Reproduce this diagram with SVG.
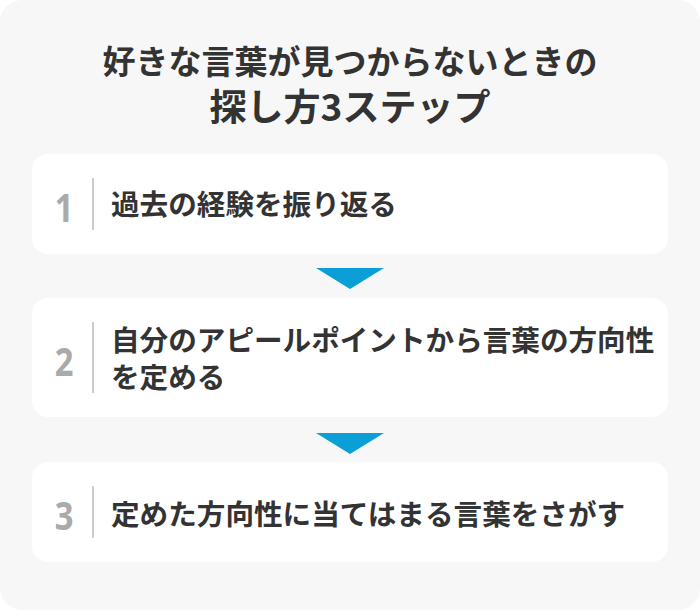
<svg xmlns="http://www.w3.org/2000/svg" width="700" height="610" viewBox="0 0 700 610">
<style>
.t{font-family:"Noto Sans CJK JP","Noto Sans",sans-serif;font-weight:700;fill:#333;}
.s{font-size:28.6px;}
.n{font-family:"Noto Sans","Noto Sans CJK JP",sans-serif;font-weight:700;fill:#aaa;font-size:40px;text-anchor:middle;}
.card{fill:#fff;}
.div{stroke:#ccc;stroke-width:2;}
.arr{fill:#0a9fd6;}
</style>
<rect x="0" y="0" width="700" height="610" rx="22" fill="#f7f7f7"/>
<g id="title">
<text class="t" x="350" y="74" font-size="33" text-anchor="middle">好きな言葉が見つからないときの</text>
<text class="t" x="350" y="121" font-size="37" text-anchor="middle">探し方3ステップ</text>
</g>
<g id="connectors">
<polygon class="arr" points="316,268 384,268 350,289"/>
<polygon class="arr" points="316,433 384,433 350,454"/>
</g>
<g id="step1">
<rect class="card" x="32" y="154" width="636" height="100" rx="16"/>
<text class="n" transform="translate(64,222) scale(0.82,1)">1</text>
<line class="div" x1="93" y1="178" x2="93" y2="230"/>
<text class="t s" x="111" y="215">過去の経験を振り返る</text>
</g>
<g id="step2">
<rect class="card" x="32" y="298" width="636" height="119" rx="16"/>
<text class="n" transform="translate(64,376) scale(0.82,1)">2</text>
<line class="div" x1="93" y1="322" x2="93" y2="393"/>
<text class="t s" x="111" y="351">自分のアピールポイントから言葉の方向性</text>
<text class="t s" x="111" y="388">を定める</text>
</g>
<g id="step3">
<rect class="card" x="32" y="462" width="636" height="100" rx="16"/>
<text class="n" transform="translate(64,530) scale(0.82,1)">3</text>
<line class="div" x1="93" y1="486" x2="93" y2="538"/>
<text class="t s" x="111" y="525">定めた方向性に当てはまる言葉をさがす</text>
</g>
</svg>
